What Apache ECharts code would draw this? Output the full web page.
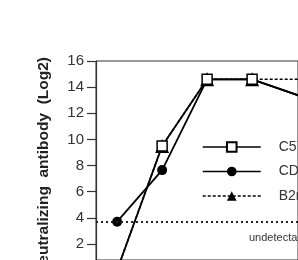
<!DOCTYPE html>
<html>
<head>
<meta charset="UTF-8">
<script src="https://cdn.jsdelivr.net/npm/echarts@6/dist/echarts.min.js"></script>
</head>
<body style="margin:0;">
<div id="main" style="width:298px;height:260px;"></div>
<script>
    // time points (weeks) and log2 titres
    var weeks = [1, 2, 3, 4, 6];
    var c57 = [0, 9.5, 14.6, 14.6, 12.2];
    var cd4 = [3.7, 7.65, 14.6, 14.6, 12.2];
    var b2m = [0, 9.5, 14.6, 14.6, 14.6];
    var names = ['C57BL/6', 'CD4-/-', 'B2m-/-'];
    var yTicks = [0, 2, 4, 6, 8, 10, 12, 14, 16];
    var undetectable = 3.7;

    function pairs(vals) {
        var out = [];
        for (var i = 0; i < vals.length; i++) {
            out.push([weeks[i], vals[i]]);
        }
        return out;
    }

    var font = 'Liberation Sans, Arial, sans-serif';
    var myChart = echarts.init(document.getElementById('main'));

    var option = {
        backgroundColor: '#fff',
        animation: false,
        grid: {
            left: 96, top: 61, right: 0, bottom: 0,
            show: true, borderColor: '#333', borderWidth: 1
        },
        xAxis: {
            type: 'value', min: 0.53, max: 5.02,
            show: false
        },
        yAxis: {
            // the figure is cropped: zero sits ~10px below the bottom edge
            type: 'value', min: 0.77, max: 16,
            axisLine: {show: true, lineStyle: {color: '#333', width: 1.2}},
            axisTick: {show: true, length: 9, customValues: yTicks, lineStyle: {color: '#333', width: 1.2}},
            axisLabel: {color: '#333', fontSize: 15, fontFamily: font, margin: 12, customValues: yTicks},
            splitLine: {show: false}
        },
        legend: {
            data: names,
            orient: 'vertical',
            left: 202, top: 140, padding: 0,
            itemWidth: 58, itemHeight: 12, itemGap: 10.5,
            textStyle: {color: '#333', fontSize: 14, fontFamily: font, padding: [0, 0, 0, 13]},
            lineStyle: {width: 1.5}
        },
        graphic: [
            {
                type: 'text', x: 44, y: 57, rotation: Math.PI / 2,
                style: {
                    text: 'Neutralizing  antibody  (Log2)', fill: '#222',
                    font: 'bold 15.5px ' + font, align: 'right', verticalAlign: 'middle'
                }
            },
            {
                type: 'text', x: 249, y: 238,
                style: {
                    text: 'undetectable', fill: '#333',
                    font: '11px ' + font, align: 'left', verticalAlign: 'middle'
                }
            }
        ],
        series: [
            {
                name: names[1], type: 'line', data: pairs(cd4),
                symbol: 'circle', symbolSize: 10,
                lineStyle: {color: '#000', width: 1.8},
                itemStyle: {color: '#000'},
                markLine: {
                    silent: true, symbol: 'none', label: {show: false},
                    lineStyle: {color: '#222', width: 1.8, type: [2, 3]},
                    data: [{yAxis: undetectable}]
                }
            },
            {
                name: names[2], type: 'line', data: pairs(b2m),
                symbol: 'triangle', symbolSize: 14,
                lineStyle: {color: '#000', width: 1.6, type: [3, 2]},
                itemStyle: {color: '#000'}
            },
            {
                name: names[0], type: 'line', data: pairs(c57),
                symbol: 'rect', symbolSize: 10,
                lineStyle: {color: '#000', width: 1.8},
                itemStyle: {color: '#fff', borderColor: '#000', borderWidth: 1.5}
            }
        ]
    };

    myChart.setOption(option);
</script>
</body>
</html>
